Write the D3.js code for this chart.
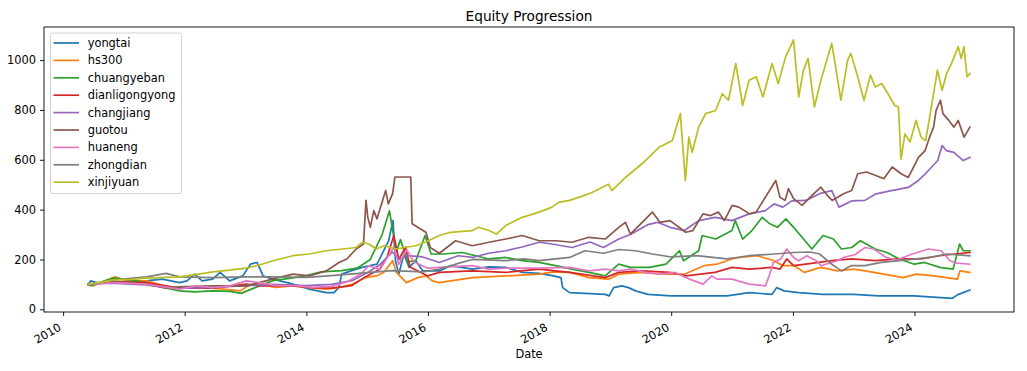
<!DOCTYPE html>
<html>
<head>
<meta charset="utf-8">
<script src="https://cdn.jsdelivr.net/npm/d3@7"></script>
<style>
  body { margin: 0; background: #fff; }
  svg { display: block; font-family: "DejaVu Sans", sans-serif; }
</style>
</head>
<body>
<svg id="chart" width="1027" height="371"></svg>
<script>
// Series names, in legend order
var names = ["yongtai", "hs300", "chuangyeban", "dianligongyong", "changjiang",
             "guotou", "huaneng", "zhongdian", "xinjiyuan"];

var colors = ["#1f77b4", "#ff7f0e", "#2ca02c", "#d62728", "#9467bd",
              "#8c564b", "#e377c2", "#7f7f7f", "#bcbd22"];

var yTicks = [0, 200, 400, 600, 800, 1000];
var xTickYears = [2010, 2012, 2014, 2016, 2018, 2020, 2022, 2024];

// values: [date, equity]
var yongtai = [
  ["2010-05-31",100],["2010-06-15",114],["2010-08-01",105],["2010-10-27",107],["2011-05-15",114],
  ["2011-08-20",121],["2011-12-01",107],["2012-01-15",114],["2012-03-01",141],["2012-04-15",114],
  ["2012-06-17",121],["2012-08-01",148],["2012-09-27",114],["2012-12-15",134],["2013-01-30",181],
  ["2013-03-10",188],["2013-03-25",168],["2013-04-15",134],["2013-06-15",121],["2013-10-12",101],
  ["2014-01-18",81],["2014-04-30",67],["2014-06-15",67],["2014-07-15",87],["2014-08-01",141],
  ["2014-09-25",154],["2014-12-01",168],["2015-03-01",181],["2015-05-10",275],["2015-06-05",356],
  ["2015-06-20",195],["2015-07-10",141],["2015-08-10",222],["2015-09-10",168],["2015-10-20",195],
  ["2015-12-01",154],["2016-03-10",154],["2016-05-15",175],["2016-09-24",161],["2017-01-01",170],
  ["2017-04-12",168],["2017-07-20",148],["2017-10-30",144],["2018-01-25",134],["2018-03-10",127],
  ["2018-03-20",87],["2018-05-01",67],["2018-12-01",60],["2018-12-25",54],["2019-01-20",87],
  ["2019-03-10",94],["2019-04-20",87],["2019-06-01",74],["2019-08-15",60],["2020-01-01",54],
  ["2020-06-14",54],["2020-12-01",54],["2021-04-13",67],["2021-08-29",60],["2021-09-25",87],
  ["2021-11-10",74],["2022-02-05",67],["2022-07-01",60],["2023-01-01",60],["2023-06-01",54],
  ["2024-01-01",54],["2024-08-15",44],["2024-09-20",60],["2024-10-20",67],["2024-11-29",77]
];

var hs300 = [
  ["2010-05-31",100],["2010-07-01",95],["2010-11-10",130],["2011-01-15",115],["2011-05-15",114],
  ["2011-09-01",94],["2011-12-01",85],["2012-03-01",92],["2012-06-17",85],["2012-09-01",80],
  ["2012-12-01",74],["2013-01-20",96],["2013-03-25",101],["2013-07-01",88],["2013-10-12",94],
  ["2014-01-18",87],["2014-04-30",81],["2014-07-16",87],["2014-10-05",101],["2014-12-20",127],
  ["2015-02-25",134],["2015-04-10",148],["2015-06-03",195],["2015-06-25",148],["2015-08-25",107],
  ["2015-11-01",127],["2015-12-20",134],["2016-01-28",114],["2016-03-10",107],["2016-09-24",127],
  ["2017-04-12",134],["2017-10-30",141],["2018-01-25",150],["2018-05-01",148],["2018-08-25",127],
  ["2018-12-20",121],["2019-02-20",141],["2019-07-01",148],["2019-11-01",141],["2020-03-20",141],
  ["2020-07-15",175],["2020-10-01",181],["2020-12-31",202],["2021-02-15",208],["2021-06-01",215],
  ["2021-09-10",195],["2021-11-01",175],["2022-01-10",175],["2022-03-10",148],["2022-06-18",168],
  ["2022-09-25",154],["2022-12-31",161],["2023-03-10",154],["2023-07-01",141],["2023-10-25",127],
  ["2024-01-11",141],["2024-04-25",134],["2024-09-15",121],["2024-09-30",154],["2024-11-29",148]
];

var chuangyeban = [
  ["2010-05-31",100],["2010-06-20",95],["2010-10-27",125],["2011-01-15",120],["2011-05-15",107],
  ["2011-09-01",87],["2011-12-01",74],["2012-03-01",70],["2012-06-17",74],["2012-10-01",72],
  ["2012-12-05",64],["2013-03-25",94],["2013-06-15",115],["2013-10-01",125],["2014-01-01",135],
  ["2014-04-01",150],["2014-08-01",155],["2014-11-01",165],["2015-01-20",200],["2015-04-01",300],
  ["2015-05-15",395],["2015-06-25",230],["2015-07-20",280],["2015-09-01",190],["2015-10-20",195],
  ["2015-12-15",296],["2016-01-20",222],["2016-04-01",222],["2016-07-25",228],["2017-01-01",202],
  ["2017-04-12",208],["2017-07-20",195],["2017-10-30",188],["2018-02-05",175],["2018-05-15",161],
  ["2018-08-25",148],["2018-11-30",134],["2019-02-20",181],["2019-05-01",168],["2019-08-25",168],
  ["2019-12-01",181],["2020-02-20",235],["2020-03-15",195],["2020-06-14",235],["2020-07-05",296],
  ["2020-09-25",282],["2020-12-31",316],["2021-01-20",356],["2021-03-05",282],["2021-04-30",316],
  ["2021-07-01",369],["2021-08-15",343],["2021-09-30",329],["2021-11-20",363],["2022-01-05",329],
  ["2022-02-25",289],["2022-04-25",242],["2022-07-01",296],["2022-09-01",282],["2022-10-20",242],
  ["2022-12-20",248],["2023-02-10",275],["2023-05-10",242],["2023-07-20",228],["2023-10-01",202],
  ["2023-12-31",181],["2024-03-01",188],["2024-06-01",168],["2024-08-20",161],["2024-09-28",262],
  ["2024-10-20",235],["2024-11-29",235]
];

var dianligongyong = [
  ["2010-05-31",100],["2010-10-27",110],["2011-05-15",107],["2011-09-01",95],["2011-12-01",85],
  ["2012-06-17",85],["2013-01-05",101],["2013-03-25",94],["2013-10-12",94],["2014-02-01",87],
  ["2014-06-01",85],["2014-10-01",95],["2014-12-20",130],["2015-03-15",160],["2015-05-01",210],
  ["2015-06-10",296],["2015-07-10",200],["2015-08-20",250],["2015-09-15",170],["2015-12-31",134],
  ["2016-03-10",148],["2016-09-24",154],["2017-04-12",148],["2017-10-30",161],["2018-05-01",148],
  ["2018-11-30",127],["2019-02-20",148],["2019-07-10",154],["2019-12-25",148],["2020-03-30",134],
  ["2020-09-20",148],["2020-12-31",168],["2021-04-13",161],["2021-08-29",168],["2021-10-15",161],
  ["2021-11-25",202],["2022-01-05",175],["2022-03-20",181],["2022-08-22",195],["2022-12-20",202],
  ["2023-05-10",195],["2023-09-27",202],["2024-02-10",202],["2024-06-01",215],["2024-09-01",222],
  ["2024-11-29",228]
];

var changjiang = [
  ["2010-05-31",100],["2010-10-15",105],["2011-05-15",98],["2011-09-12",88],["2012-01-01",85],
  ["2012-06-17",88],["2013-01-05",95],["2013-06-15",100],["2014-01-01",95],["2014-06-01",100],
  ["2014-10-01",115],["2015-01-10",150],["2015-03-20",180],["2015-06-01",230],["2015-07-15",200],
  ["2015-09-01",215],["2015-12-01",210],["2016-03-10",188],["2016-07-01",215],["2016-09-24",208],
  ["2017-01-01",225],["2017-04-12",235],["2017-07-20",250],["2017-10-30",269],["2018-01-15",262],
  ["2018-05-15",248],["2018-09-01",270],["2018-11-20",248],["2019-02-20",282],["2019-05-01",300],
  ["2019-08-15",340],["2019-10-10",349],["2019-12-25",329],["2020-03-20",316],["2020-06-14",356],
  ["2020-09-20",369],["2020-12-31",356],["2021-04-13",383],["2021-07-20",396],["2021-09-10",423],
  ["2021-11-01",410],["2021-12-25",435],["2022-03-20",437],["2022-06-10",464],["2022-08-22",476],
  ["2022-10-05",410],["2022-12-20",435],["2023-03-10",437],["2023-05-10",462],["2023-08-15",476],
  ["2023-11-25",489],["2024-01-25",517],["2024-03-05",543],["2024-05-20",597],["2024-06-15",657],
  ["2024-07-10",637],["2024-08-25",630],["2024-10-20",597],["2024-11-29",610]
];

var guotou = [
  ["2010-05-31",100],["2010-10-15",110],["2011-02-15",105],["2011-05-15",101],["2011-09-12",85],
  ["2011-12-01",90],["2012-06-17",94],["2013-01-05",94],["2013-03-25",107],["2013-06-15",122],
  ["2013-10-12",141],["2014-01-18",134],["2014-04-30",154],["2014-07-16",188],["2014-09-01",202],
  ["2014-10-27",242],["2014-12-10",262],["2014-12-25",437],["2015-01-05",369],["2015-01-20",329],
  ["2015-02-10",396],["2015-03-01",363],["2015-04-22",477],["2015-05-08",423],["2015-06-03",464],
  ["2015-06-17",531],["2015-09-20",531],["2015-09-28",343],["2015-11-01",329],["2015-12-20",309],
  ["2016-01-15",248],["2016-03-10",225],["2016-06-15",275],["2016-09-24",255],["2017-01-01",269],
  ["2017-04-12",282],["2017-07-20",296],["2017-10-30",275],["2018-02-10",275],["2018-05-15",269],
  ["2018-08-25",289],["2018-12-01",282],["2019-02-20",329],["2019-04-01",349],["2019-05-01",302],
  ["2019-09-10",390],["2019-10-25",349],["2019-12-25",356],["2020-03-28",309],["2020-05-10",316],
  ["2020-07-10",383],["2020-08-25",376],["2020-10-10",390],["2020-11-15",356],["2021-01-01",417],
  ["2021-02-10",410],["2021-04-15",383],["2021-05-25",390],["2021-09-20",517],["2021-10-15",450],
  ["2021-11-15",437],["2021-12-05",484],["2022-01-05",444],["2022-02-25",417],["2022-04-15",450],
  ["2022-06-18",490],["2022-08-05",450],["2022-08-25",437],["2022-11-01",464],["2022-12-20",477],
  ["2023-01-25",544],["2023-03-20",551],["2023-05-10",538],["2023-07-01",524],["2023-08-20",571],
  ["2023-10-15",543],["2023-11-25",529],["2024-01-25",610],["2024-03-05",637],["2024-04-01",691],
  ["2024-04-25",731],["2024-05-10",798],["2024-06-05",839],["2024-06-20",785],["2024-07-25",758],
  ["2024-08-25",731],["2024-09-20",758],["2024-10-25",691],["2024-11-29",731]
];

var huaneng = [
  ["2010-05-31",100],["2010-10-27",107],["2011-05-15",101],["2011-09-01",90],["2011-12-01",81],
  ["2012-03-15",94],["2012-06-17",87],["2012-09-27",94],["2013-01-05",114],["2013-03-25",107],
  ["2013-07-01",95],["2013-11-01",95],["2014-02-01",88],["2014-06-01",92],["2014-09-01",110],
  ["2014-12-01",145],["2015-01-10",175],["2015-03-20",160],["2015-06-10",250],["2015-07-10",180],
  ["2015-08-25",240],["2015-10-10",190],["2015-12-31",165],["2016-03-10",168],["2016-09-24",175],
  ["2017-01-01",161],["2017-04-12",165],["2017-10-30",165],["2018-05-01",168],["2018-08-25",154],
  ["2018-11-30",161],["2019-02-20",154],["2019-05-01",161],["2019-08-01",148],["2019-11-01",141],
  ["2020-01-25",148],["2020-04-20",121],["2020-07-10",101],["2020-09-01",134],["2020-10-01",121],
  ["2021-01-01",121],["2021-04-13",101],["2021-07-20",94],["2021-08-15",141],["2021-09-05",188],
  ["2021-10-20",202],["2021-11-25",242],["2022-01-05",208],["2022-02-05",195],["2022-03-25",215],
  ["2022-05-20",195],["2022-06-20",175],["2022-08-05",185],["2022-09-25",195],["2022-11-01",208],
  ["2023-01-10",220],["2023-03-10",248],["2023-05-01",242],["2023-07-15",208],["2023-09-20",198],
  ["2023-12-10",220],["2024-03-25",242],["2024-06-10",235],["2024-08-01",195],["2024-09-10",185],
  ["2024-11-29",181]
];

var zhongdian = [
  ["2010-05-31",100],["2010-10-27",117],["2011-05-15",130],["2011-09-12",144],["2011-12-01",130],
  ["2012-06-17",127],["2013-01-05",130],["2013-06-15",130],["2014-01-01",128],["2014-06-01",135],
  ["2014-12-01",145],["2015-06-01",155],["2015-12-01",150],["2016-03-10",161],["2016-06-15",181],
  ["2016-09-24",200],["2017-04-12",195],["2017-07-28",202],["2017-10-30",195],["2018-05-01",208],
  ["2018-08-01",235],["2018-11-20",225],["2019-02-20",240],["2019-06-01",235],["2019-09-10",222],
  ["2020-01-01",210],["2020-06-01",215],["2020-12-01",202],["2021-04-13",215],["2021-09-10",222],
  ["2022-01-05",228],["2022-04-15",230],["2022-06-10",222],["2022-08-22",181],["2022-10-20",154],
  ["2022-12-15",175],["2023-03-10",175],["2023-06-15",188],["2023-10-01",195],["2024-01-11",202],
  ["2024-04-01",208],["2024-07-15",222],["2024-11-29",215]
];

var xinjiyuan = [
  ["2010-05-31",100],["2010-08-15",108],["2010-10-27",118],["2011-02-15",120],["2011-05-15",125],
  ["2011-09-01",128],["2011-12-01",130],["2012-03-15",140],["2012-06-17",150],["2012-09-27",157],
  ["2013-01-05",165],["2013-03-25",178],["2013-06-15",195],["2013-10-12",215],["2014-01-18",222],
  ["2014-04-30",235],["2014-08-07",242],["2014-10-27",248],["2014-12-06",269],["2015-01-10",262],
  ["2015-02-25",242],["2015-04-15",255],["2015-06-24",242],["2015-08-15",248],["2015-10-20",255],
  ["2015-12-15",269],["2016-03-10",296],["2016-05-15",309],["2016-09-24",316],["2016-11-01",329],
  ["2017-01-01",316],["2017-02-15",302],["2017-04-12",336],["2017-07-20",369],["2017-10-30",390],
  ["2018-01-15",410],["2018-02-24",429],["2018-05-01",437],["2018-07-20",455],["2018-09-13",469],
  ["2018-12-20",502],["2019-01-10",476],["2019-04-01",529],["2019-07-08",583],["2019-10-20",650],
  ["2020-01-08",677],["2020-02-25",785],["2020-03-26",516],["2020-04-16",691],["2020-05-06",630],
  ["2020-06-14",731],["2020-07-26",785],["2020-09-24",798],["2020-11-03",865],["2020-12-10",839],
  ["2021-01-23",986],["2021-03-05",818],["2021-04-13",919],["2021-05-26",933],["2021-07-05",852],
  ["2021-08-29",986],["2021-10-05",906],["2021-11-18",1013],["2022-01-05",1081],["2022-02-05",852],
  ["2022-03-05",960],["2022-04-02",1006],["2022-05-10",812],["2022-06-18",919],["2022-08-22",1067],
  ["2022-09-08",1000],["2022-10-16",839],["2022-11-26",1000],["2022-12-15",1027],["2023-01-25",933],
  ["2023-03-04",839],["2023-04-12",940],["2023-05-10",892],["2023-06-18",906],["2023-07-26",865],
  ["2023-09-05",818],["2023-09-27",812],["2023-10-12",603],["2023-11-05",704],["2023-12-05",671],
  ["2024-01-11",758],["2024-02-10",691],["2024-03-08",677],["2024-04-05",785],["2024-05-18",960],
  ["2024-06-15",879],["2024-07-12",946],["2024-08-10",986],["2024-09-20",1054],["2024-10-08",1006],
  ["2024-10-24",1054],["2024-11-12",933],["2024-11-29",946]
];

var seriesData = [yongtai, hs300, chuangyeban, dianligongyong, changjiang,
                  guotou, huaneng, zhongdian, xinjiyuan];

// Layout
var margin = {left: 44, right: 13, top: 27, bottom: 59},
    W = 1027, H = 371,
    plotW = W - margin.left - margin.right,
    plotH = H - margin.top - margin.bottom;

var parse = d3.timeParse("%Y-%m-%d");

var series = names.map(function(n, i) {
  return {
    name: n,
    color: colors[i],
    values: seriesData[i].map(function(d) { return {date: parse(d[0]), v: d[1]}; })
  };
});

var allDates = [], allVals = [];
series.forEach(function(s) {
  s.values.forEach(function(d) { allDates.push(+d.date); allVals.push(d.v); });
});

// matplotlib style 5% margins
var dMin = d3.min(allDates), dMax = d3.max(allDates), dPad = (dMax - dMin) * 0.05;
var x = d3.scaleTime()
  .domain([new Date(dMin - dPad), new Date(dMax + dPad)])
  .range([0, plotW]);

var vMin = d3.min(allVals), vMax = d3.max(allVals), vPad = (vMax - vMin) * 0.05;
var y = d3.scaleLinear()
  .domain([vMin - vPad - 3, vMax + vPad])
  .range([plotH, 0]);

var svg = d3.select("#chart");

svg.append("defs").append("clipPath").attr("id", "clip")
  .append("rect").attr("width", plotW).attr("height", plotH);

var g = svg.append("g").attr("transform", "translate(" + margin.left + "," + margin.top + ")");

// Lines
var line = d3.line()
  .x(function(d) { return x(d.date); })
  .y(function(d) { return y(d.v); });

g.append("g").attr("clip-path", "url(#clip)")
  .selectAll("path")
  .data(series)
  .enter()
  .append("path")
  .attr("d", function(s) { return line(s.values); })
  .attr("fill", "none")
  .attr("stroke", function(s) { return s.color; })
  .attr("stroke-width", 1.7)
  .attr("stroke-linejoin", "round")
  .attr("stroke-linecap", "square");

// Y axis
var yAxis = g.append("g")
  .call(d3.axisLeft(y).tickValues(yTicks).tickSize(4).tickPadding(4).tickFormat(d3.format("d")));
yAxis.select(".domain").remove();
yAxis.selectAll("line").attr("stroke", "#000").attr("stroke-width", 0.9);
yAxis.selectAll("text").attr("fill", "#000").style("font-size", "11.4px")
  .style("font-family", "'DejaVu Sans', sans-serif");

// X axis
var xTicks = xTickYears.map(function(yr) { return new Date(yr, 0, 1); });
var xAxis = g.append("g")
  .attr("transform", "translate(0," + plotH + ")")
  .call(d3.axisBottom(x).tickValues(xTicks).tickSize(4).tickFormat(d3.timeFormat("%Y")));
xAxis.select(".domain").remove();
xAxis.selectAll("line").attr("stroke", "#000").attr("stroke-width", 0.9);
xAxis.selectAll("text")
  .attr("fill", "#000")
  .style("font-size", "11.4px")
  .style("font-family", "'DejaVu Sans', sans-serif")
  .attr("text-anchor", "end")
  .attr("dy", null)
  .attr("y", 0)
  .attr("transform", "translate(-1.5,17.5) rotate(-30)");

// Frame
g.append("rect")
  .attr("width", plotW).attr("height", plotH)
  .attr("fill", "none").attr("stroke", "#000").attr("stroke-width", 0.9);

// Title and axis label
svg.append("text")
  .attr("x", margin.left + plotW / 2).attr("y", 20.5)
  .attr("text-anchor", "middle")
  .style("font-size", "13.7px")
  .text("Equity Progression");

svg.append("text")
  .attr("x", margin.left + plotW / 2).attr("y", 358)
  .attr("text-anchor", "middle")
  .style("font-size", "11.4px")
  .text("Date");

// Legend
var legend = svg.append("g").attr("transform", "translate(50.5,33)");
legend.append("rect")
  .attr("width", 131).attr("height", 160.5)
  .attr("rx", 2.5)
  .attr("fill", "#fff").attr("fill-opacity", 0.8)
  .attr("stroke", "#cccccc").attr("stroke-width", 0.9);

var item = legend.selectAll(".item")
  .data(series)
  .enter()
  .append("g")
  .attr("class", "item")
  .attr("transform", function(d, i) { return "translate(0," + (10 + i * 17.4) + ")"; });

item.append("line")
  .attr("x1", 3).attr("x2", 28.5)
  .attr("stroke", function(d) { return d.color; })
  .attr("stroke-width", 1.7);

item.append("text")
  .attr("x", 37.2)
  .attr("dy", "0.35em")
  .style("font-size", "11.4px")
  .text(function(d) { return d.name; });
</script>
</body>
</html>
